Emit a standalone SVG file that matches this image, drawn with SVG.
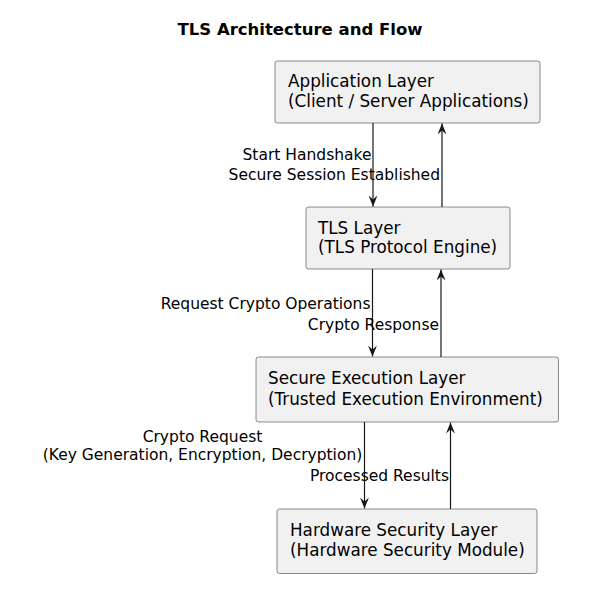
<svg xmlns="http://www.w3.org/2000/svg" width="589" height="598" viewBox="0 0 589 598">
<style>
text{font-family:"DejaVu Sans","Liberation Sans",sans-serif;fill:#000}
.title{font-size:16.5px;font-weight:bold}
.node{font-size:16.8px}
.lbl{font-size:15.5px}
.box{fill:#F1F1F1;stroke:#181818;stroke-width:0.5}
.edge{stroke:#181818;stroke-width:1.2;fill:none}
</style>
<defs>
<marker id="ah" markerWidth="12" markerHeight="10" viewBox="0 0 12 10" refX="11" refY="4.5" orient="auto" markerUnits="userSpaceOnUse">
<path d="M0,0 L11,4.5 L0,9 L4,4.5 Z" fill="#181818"/>
</marker>
</defs>
<rect width="589" height="598" fill="#FFFFFF"/>
<text class="title" x="300" y="35" text-anchor="middle">TLS Architecture and Flow</text>
<g id="app">
<rect class="box" x="275" y="61" width="265" height="62" rx="2.5"/>
<text class="node" x="288" y="87">Application Layer</text>
<text class="node" x="288" y="106.5">(Client / Server Applications)</text>
</g>
<g id="tls">
<rect class="box" x="306" y="207" width="204" height="62" rx="2.5"/>
<text class="node" x="318" y="234">TLS Layer</text>
<text class="node" x="318" y="253">(TLS Protocol Engine)</text>
</g>
<g id="tee">
<rect class="box" x="256" y="357" width="302.5" height="65" rx="2.5"/>
<text class="node" x="268" y="384">Secure Execution Layer</text>
<text class="node" x="268" y="404.5">(Trusted Execution Environment)</text>
</g>
<g id="hsm">
<rect class="box" x="277" y="509" width="260" height="64.5" rx="2.5"/>
<text class="node" x="290" y="536">Hardware Security Layer</text>
<text class="node" x="290" y="556">(Hardware Security Module)</text>
</g>
<g id="connectors">
<line class="edge" x1="373" y1="123" x2="373" y2="206.5" marker-end="url(#ah)"/>
<line class="edge" x1="442" y1="207" x2="442" y2="123.5" marker-end="url(#ah)"/>
<line class="edge" x1="372.5" y1="269" x2="372.5" y2="356.5" marker-end="url(#ah)"/>
<line class="edge" x1="441" y1="357" x2="441" y2="269.5" marker-end="url(#ah)"/>
<line class="edge" x1="364.5" y1="422" x2="364.5" y2="508.5" marker-end="url(#ah)"/>
<line class="edge" x1="450.5" y1="509" x2="450.5" y2="422.5" marker-end="url(#ah)"/>
<text class="lbl" x="371.5" y="160" text-anchor="end">Start Handshake</text>
<text class="lbl" x="440" y="180" text-anchor="end">Secure Session Established</text>
<text class="lbl" x="370.5" y="308.5" text-anchor="end">Request Crypto Operations</text>
<text class="lbl" x="439" y="330" text-anchor="end">Crypto Response</text>
<text class="lbl" x="202.5" y="441.5" text-anchor="middle">Crypto Request</text>
<text class="lbl" x="202.5" y="459.5" text-anchor="middle">(Key Generation, Encryption, Decryption)</text>
<text class="lbl" x="449" y="481" text-anchor="end">Processed Results</text>
</g>
</svg>
